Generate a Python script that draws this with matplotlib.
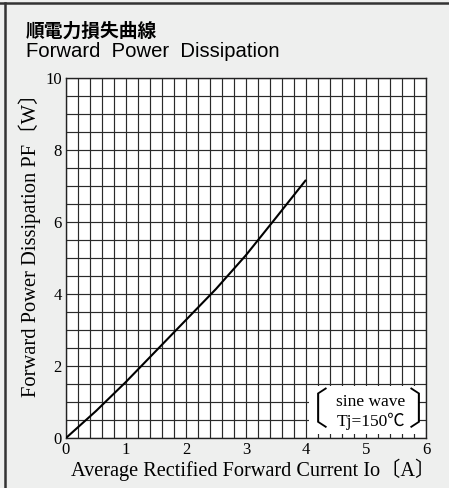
import matplotlib
matplotlib.use("Agg")
import matplotlib.pyplot as plt
from matplotlib.lines import Line2D
import numpy as np

# Data
current_A = [0.0, 0.5, 1.0, 1.5, 2.0, 2.5, 3.0, 3.5, 4.0]
power_W = [0.0, 0.75, 1.56, 2.42, 3.28, 4.14, 5.08, 6.12, 7.17]
x_ticks = [0, 1, 2, 3, 4, 5, 6]
y_ticks = [0, 2, 4, 6, 8, 10]

title_jp = "順電力損失曲線"
title_en = "Forward  Power  Dissipation"
xlabel = "Average Rectified Forward Current Io〔A〕"
ylabel = "Forward Power Dissipation PF〔W〕"
note_lines = ["sine wave", "Tj=150℃"]

BG = "#eeefee"
serif = ["Liberation Serif", "Noto Sans CJK JP", "DejaVu Serif"]

fig = plt.figure(figsize=(4.49, 4.88), dpi=100, facecolor=BG)
ax = fig.add_axes([66/449, 50/488, 360/449, 360/488])
ax.set_facecolor("white")
ax.set_xlim(0, 6)
ax.set_ylim(0, 10)

# grid
ax.set_xticks(np.arange(0, 6.01, 0.2), minor=True)
ax.set_yticks(np.arange(0, 10.01, 0.5), minor=True)
ax.grid(which="both", color="#2a2a2a", linewidth=0.85)
ax.set_axisbelow(True)
ax.set_xticks(x_ticks)
ax.set_yticks(y_ticks)
ax.set_xticklabels([str(t) for t in x_ticks], family=serif, fontsize=12)
ax.set_yticklabels([str(t) for t in y_ticks], family=serif, fontsize=12)
ax.tick_params(which="both", length=0, pad=3)
ax.tick_params(axis="x", pad=3)
for s in ax.spines.values():
    s.set_color("#222222")
    s.set_linewidth(1.0)

# curve
ax.plot(current_A, power_W, color="black", linewidth=1.5, zorder=5,
        solid_capstyle="butt")

# note box
ax.add_patch(plt.Rectangle((4.05, 0.12), 1.82, 1.33, facecolor="white",
                           edgecolor="none", zorder=3))
ax.text(5.08, 1.0, note_lines[0], ha="center", va="center", family=serif,
        fontsize=12.5, zorder=6)
ax.text(5.08, 0.45, note_lines[1], ha="center", va="center", family=serif,
        fontsize=12.5, zorder=6)
ax.text(4.03, 0.73, "〔", ha="center", va="center", family=["Noto Sans CJK JP"],
        fontsize=31, fontweight="light", zorder=6)
ax.text(6.05, 0.73, "〕", ha="center", va="center", family=["Noto Sans CJK JP"],
        fontsize=31, fontweight="light", zorder=6)

ax.set_xlabel(xlabel, family=serif, fontsize=14.6, labelpad=0)
ax.set_ylabel(ylabel, family=serif, fontsize=14.8, labelpad=3)
ax.xaxis.label.set_x(0.52)
ax.yaxis.label.set_y(0.55)

# titles
fig.text(26/449, 1 - 37/488, title_jp, family=["Noto Sans CJK JP", "DejaVu Sans"],
         fontsize=13.5, fontweight="bold", ha="left", va="baseline")
fig.text(26/449, 1 - 57/488, title_en, family=["Liberation Sans", "DejaVu Sans"],
         fontsize=14.6, ha="left", va="baseline")

# frame lines
fig.add_artist(Line2D([0, 1], [1 - 2.8/488, 1 - 2.8/488], color="#333333",
                      linewidth=1.8, transform=fig.transFigure))
fig.add_artist(Line2D([4.6/449, 4.6/449], [0, 1 - 2.8/488], color="#333333",
                      linewidth=1.8, transform=fig.transFigure))

fig.savefig("out.png", dpi=100, facecolor=BG)
